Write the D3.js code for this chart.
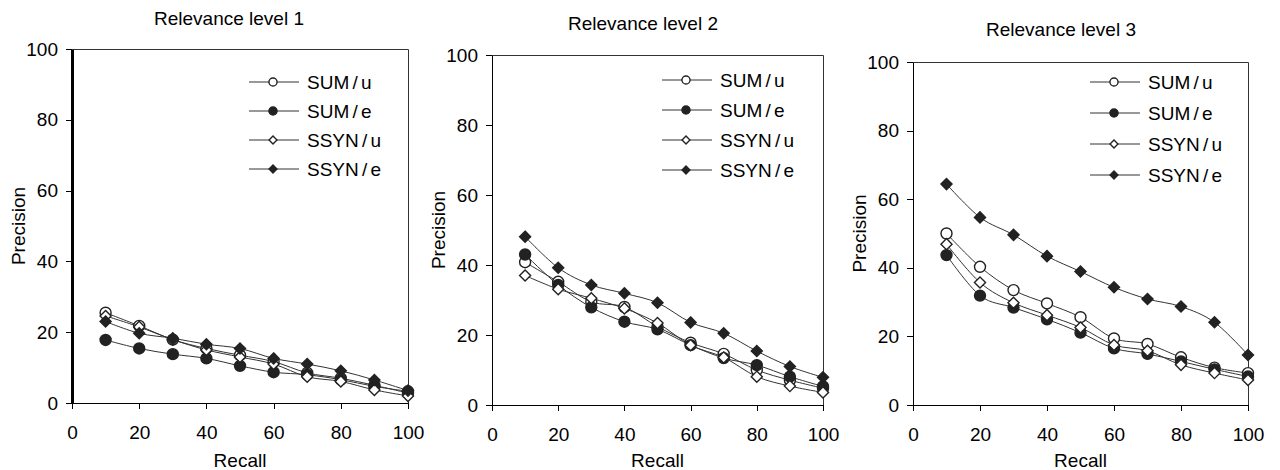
<!DOCTYPE html>
<meta charset="utf-8">
<title>precision / recall</title>
<style>

body {
  margin: 0;
  background: #fff;
}

svg {
  font-family: "Liberation Sans", Arial, sans-serif;
}

.frame {
  fill: none;
  stroke: #333;
  stroke-width: 1px;
}

.axis path, .axis line {
  stroke: #000;
  shape-rendering: crispEdges;
}

.axis text {
  font-size: 19px;
  fill: #000;
}

.series {
  fill: none;
  stroke: #333;
  stroke-width: 1px;
}

.title, .label, .legend text {
  font-size: 19px;
  fill: #000;
}

.legend text {
  word-spacing: -2px;
}

</style>
<body>
<script src="https://cdn.jsdelivr.net/npm/d3@7"></script>
<script>

var width = 1280,
    height = 470;

// recall points and the four runs
var recall = [10, 20, 30, 40, 50, 60, 70, 80, 90, 100];
var seriesNames = ["SUM / u", "SUM / e", "SSYN / u", "SSYN / e"];
var titles = ["Relevance level 1", "Relevance level 2", "Relevance level 3"];
var xTicks = [0, 20, 40, 60, 80, 100];
var yTicks = [0, 20, 40, 60, 80, 100];

var level1SumU  = [25.5, 21.8, 17.9, 15.4, 13.5, 11.7, 8.5, 7.0, 5.0, 2.8];
var level1SumE  = [17.8, 15.4, 13.8, 12.6, 10.5, 8.7, 8.0, 6.6, 4.7, 3.3];
var level1SsynU = [24.6, 21.5, 17.9, 15.0, 13.0, 11.0, 7.4, 6.1, 3.7, 2.0];
var level1SsynE = [23.0, 19.7, 18.3, 16.6, 15.4, 12.6, 11.0, 9.1, 6.5, 3.5];

var level2SumU  = [40.8, 35.2, 29.5, 28.0, 22.4, 17.8, 14.6, 10.0, 7.1, 4.8];
var level2SumE  = [43.0, 34.3, 27.9, 23.8, 21.6, 17.1, 13.4, 11.4, 8.1, 5.3];
var level2SsynU = [37.0, 33.1, 30.5, 27.6, 23.4, 17.1, 13.6, 8.1, 5.4, 3.6];
var level2SsynE = [48.1, 39.2, 34.3, 31.9, 29.2, 23.6, 20.5, 15.4, 11.0, 7.9];

var level3SumU  = [50.0, 40.3, 33.5, 29.6, 25.6, 19.4, 17.8, 13.9, 10.9, 9.3];
var level3SumE  = [43.7, 31.9, 28.4, 25.0, 21.1, 16.5, 14.9, 12.7, 10.4, 8.3];
var level3SsynU = [46.9, 35.7, 29.8, 26.2, 22.6, 17.5, 15.8, 11.7, 9.3, 7.3];
var level3SsynE = [64.4, 54.7, 49.6, 43.4, 38.9, 34.3, 30.9, 28.7, 24.1, 14.6];

var levels = [
  [level1SumU, level1SumE, level1SsynU, level1SsynE],
  [level2SumU, level2SumE, level2SsynU, level2SsynE],
  [level3SumU, level3SumE, level3SsynU, level3SsynE]
];

// panel boxes, legend placement and title placement (pixels)
var panels = [
  {x0: 72,  x1: 408,  y0: 49, y1: 403, axisWidth: 2.5, titleX: 229,  titleY: 25, legX: 249,  legY: 82, legStep: 29},
  {x0: 492, x1: 823,  y0: 55, y1: 405, axisWidth: 1,   titleX: 643,  titleY: 30, legX: 662,  legY: 80, legStep: 30},
  {x0: 913, x1: 1248, y0: 62, y1: 405, axisWidth: 1,   titleX: 1061, titleY: 36, legX: 1090, legY: 82, legStep: 31}
];

var filled = [false, true, false, true],
    diamond = [false, false, true, true];

var svg = d3.select("body").append("svg")
    .attr("width", width)
    .attr("height", height);

function marker(sel, i, big) {
  var s = big ? 95 : 52;
  if (diamond[i]) s = big ? 78 : 40;
  sel.attr("d", d3.symbol().type(diamond[i] ? d3.symbolDiamond2 : d3.symbolCircle).size(s))
      .attr("fill", filled[i] ? "#222" : "#fff")
      .attr("stroke", "#222")
      .attr("stroke-width", 1.4);
}

panels.forEach(function(p, k) {
  var x = d3.scaleLinear().domain([0, 100]).range([p.x0, p.x1]),
      y = d3.scaleLinear().domain([0, 100]).range([p.y1, p.y0]);

  var g = svg.append("g");

  // top and right edges of the plot box
  g.append("path")
      .attr("class", "frame")
      .attr("d", "M" + p.x0 + "," + (p.y0 + 0.5) + "H" + (p.x1 + 0.5) + "V" + p.y1);

  var xAxis = g.append("g")
      .attr("class", "axis")
      .attr("transform", "translate(0," + p.y1 + ")")
      .call(d3.axisBottom(x).tickValues(xTicks).tickSize(6).tickSizeOuter(0).tickPadding(16));

  var yAxis = g.append("g")
      .attr("class", "axis")
      .attr("transform", "translate(" + p.x0 + ",0)")
      .call(d3.axisLeft(y).tickValues(yTicks).tickSize(6).tickSizeOuter(0).tickPadding(8));
  yAxis.select(".domain").style("stroke-width", p.axisWidth + "px");
  xAxis.selectAll(".tick text").attr("dy", "0.72em");

  g.append("text")
      .attr("class", "title")
      .attr("x", p.titleX)
      .attr("y", p.titleY)
      .attr("text-anchor", "middle")
      .text(titles[k]);

  g.append("text")
      .attr("class", "label")
      .attr("x", (p.x0 + p.x1) / 2)
      .attr("y", 467)
      .attr("text-anchor", "middle")
      .text("Recall");

  g.append("text")
      .attr("class", "label")
      .attr("transform", "translate(" + (p.x0 - 47) + "," + ((p.y0 + p.y1) / 2) + ")rotate(-90)")
      .attr("text-anchor", "middle")
      .text("Precision");

  var line = d3.line()
      .x(function(d, j) { return x(recall[j]); })
      .y(function(d) { return y(d); })
      .curve(d3.curveCardinal.tension(0));

  levels[k].forEach(function(values, i) {
    g.append("path")
        .attr("class", "series")
        .attr("d", line(values));
  });

  levels[k].forEach(function(values, i) {
    g.selectAll(null)
        .data(values)
      .enter().append("path")
        .attr("transform", function(d, j) { return "translate(" + x(recall[j]) + "," + y(d) + ")"; })
        .call(marker, i, true);
  });

  var leg = g.append("g")
      .attr("class", "legend")
      .selectAll("g")
      .data(seriesNames)
    .enter().append("g")
      .attr("transform", function(d, i) { return "translate(" + p.legX + "," + (p.legY + i * p.legStep) + ")"; });

  leg.append("line")
      .attr("x1", 0)
      .attr("x2", 50)
      .attr("stroke", "#333")
      .attr("stroke-width", 1);

  leg.append("path")
      .attr("transform", "translate(24,0)")
      .each(function(d, i) { d3.select(this).call(marker, i, false); });

  leg.append("text")
      .attr("x", 58)
      .attr("dy", "0.35em")
      .text(function(d) { return d; });
});

</script>
</body>
</html>
